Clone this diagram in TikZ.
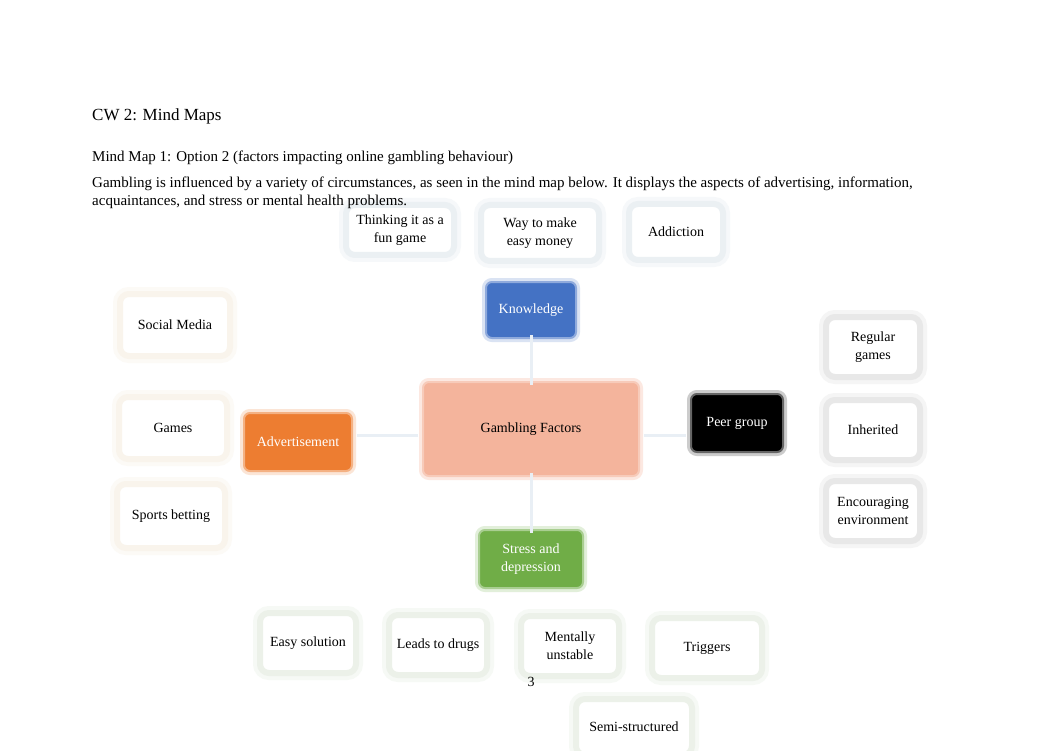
\documentclass[tikz,border=0pt]{standalone}
\usepackage{fontspec}
\setmainfont{Liberation Serif}
\definecolor{topb}{HTML}{EBF0F3}
\definecolor{leftb}{HTML}{F9F4EC}
\definecolor{rightb}{HTML}{E8E8E8}
\definecolor{botb}{HTML}{ECF1E9}
\definecolor{kblue}{HTML}{4472C4}
\definecolor{aorange}{HTML}{ED7D31}
\definecolor{gsalmon}{HTML}{F4B49C}
\definecolor{sgreen}{HTML}{70AD47}
\definecolor{conn}{HTML}{E9EFF5}
\tikzset{
  leaf/.style={rounded corners=9pt, line width=6pt, fill=white, align=center,
    font=\fontsize{14}{18}\selectfont, inner sep=2pt},
  topleaf/.style={leaf, draw=topb, preaction={draw=topb!45, line width=14pt}},
  leftleaf/.style={leaf, draw=leftb, preaction={draw=leftb!45, line width=14pt}},
  rightleaf/.style={leaf, draw=rightb, preaction={draw=rightb!45, line width=14pt}},
  botleaf/.style={leaf, draw=botb, preaction={draw=botb!45, line width=14pt}},
  hub/.style={rounded corners=6pt, line width=2pt, align=center,
    font=\fontsize{14}{18}\selectfont, inner sep=2pt},
  conline/.style={draw=conn, line width=3pt},
  ptext/.style={anchor=base west, inner sep=0pt, font=\fontsize{15}{18}\selectfont}
}
\begin{document}
\begin{tikzpicture}[x=1pt,y=-1pt]
\useasboundingbox (0,0) rectangle (1062,751);
\fill[white] (0,0) rectangle (1062,751);
% hubs
\node[hub, fill=gsalmon, draw=gsalmon!70, preaction={draw=gsalmon!30, line width=8pt}, minimum width=216pt, minimum height=94pt] (center) at (531,429) {Gambling Factors};
\node[hub, fill=kblue, draw=kblue!60, preaction={draw=kblue!20, line width=8pt}, text=white, minimum width=90pt, minimum height=56pt] (know) at (531,310) {Knowledge};
\node[hub, fill=aorange, draw=aorange!60, preaction={draw=aorange!20, line width=8pt}, text=white, minimum width=108pt, minimum height=58pt] (adv) at (298,442) {Advertisement};
\node[hub, fill=black, draw=black!60, preaction={draw=black!20, line width=8pt}, text=white, minimum width=92pt, minimum height=58pt] (peer) at (737,423) {Peer group};
\node[hub, fill=sgreen, draw=sgreen!60, preaction={draw=sgreen!20, line width=8pt}, text=white, minimum width=104pt, minimum height=58pt] (stress) at (531,559) {Stress and\\depression};
% connectors
\draw[conline] ([yshift=4pt]know.south) -- ([yshift=-4pt]center.north);
\draw[conline] ([xshift=-4pt,yshift=-6pt]center.west) -- ([xshift=4pt,yshift=-6pt]center.west -| adv.east);
\draw[conline] ([xshift=4pt,yshift=-6pt]center.east) -- ([xshift=-4pt,yshift=-6pt]center.east -| peer.west);
\draw[conline] ([yshift=4pt]center.south) -- ([yshift=-4pt]stress.north);
% top leaves
\node[topleaf, minimum width=108pt, minimum height=50pt] (fun) at (400,230) {Thinking it as a\\fun game};
\node[topleaf, minimum width=118pt, minimum height=56pt] (money) at (540,233) {Way to make\\easy money};
\node[topleaf, minimum width=94pt, minimum height=56pt] (addict) at (676,232) {Addiction};
% left leaves
\node[leftleaf, minimum width=110pt, minimum height=62pt] (social) at (175,325) {Social Media};
\node[leftleaf, minimum width=108pt, minimum height=62pt] (games) at (173,428) {Games};
\node[leftleaf, minimum width=108pt, minimum height=64pt] (sports) at (171,516) {Sports betting};
% right leaves
\node[rightleaf, minimum width=94pt, minimum height=60pt] (regular) at (873,347) {Regular\\games};
\node[rightleaf, minimum width=94pt, minimum height=60pt] (inherit) at (873,430) {Inherited};
\node[rightleaf, minimum width=94pt, minimum height=60pt] (encour) at (873,511) {Encouraging\\environment};
% bottom leaves
\node[botleaf, minimum width=96pt, minimum height=60pt] (easy) at (308,643) {Easy solution};
\node[botleaf, minimum width=98pt, minimum height=60pt] (drugs) at (438,645) {Leads to drugs};
\node[botleaf, minimum width=98pt, minimum height=60pt] (mental) at (570,646) {Mentally\\unstable};
\node[botleaf, minimum width=110pt, minimum height=60pt] (trig) at (707,648) {Triggers};
\node[botleaf, minimum width=116pt, minimum height=56pt] (semi) at (634,727) {Semi-structured};
% header text (on top)
\node[ptext, font=\fontsize{17}{20}\selectfont] (title) at (92,121) {CW 2: Mind Maps};
\node[ptext] (sub) at (92,162) {Mind Map 1: Option 2 (factors impacting online gambling behaviour)};
\node[ptext] (p1) at (92,188) {Gambling is influenced by a variety of circumstances, as seen in the mind map below. It displays the aspects of advertising, information,};
\node[ptext] (p2) at (92,206) {acquaintances, and stress or mental health problems.};
% page number
\node[font=\fontsize{14}{16}\selectfont, inner sep=0pt] (pg) at (531,682) {3};
\end{tikzpicture}
\end{document}
